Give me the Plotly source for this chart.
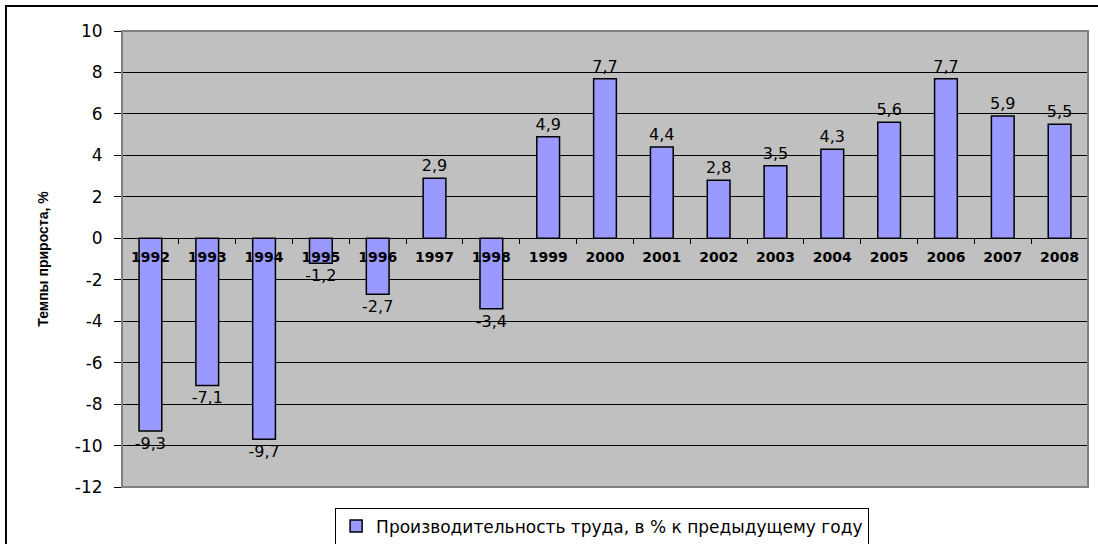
import plotly.graph_objects as go

years = ["1992", "1993", "1994", "1995", "1996", "1997", "1998", "1999", "2000",
         "2001", "2002", "2003", "2004", "2005", "2006", "2007", "2008"]
growth = [-9.3, -7.1, -9.7, -1.2, -2.7, 2.9, -3.4, 4.9, 7.7,
          4.4, 2.8, 3.5, 4.3, 5.6, 7.7, 5.9, 5.5]
series_name = "Производительность труда, в % к предыдущему году"
y_title = "Темпы прироста, %"
y_ticks = [-12, -10, -8, -6, -4, -2, 0, 2, 4, 6, 8, 10]

FONT = "DejaVu Sans, Liberation Sans, Arial, sans-serif"
AFONT = "Liberation Sans, Arial, sans-serif"

fig = go.Figure()
fig.add_trace(go.Bar(
    x=years, y=growth, name=series_name,
    marker=dict(color="#9999FF", line=dict(color="black", width=1.5)),
    width=0.4,
    texttemplate="%{y:.1f}", textposition="outside",
    textfont=dict(family=FONT, size=16, color="black"),
    constraintext="none",
    cliponaxis=False,
    showlegend=True,
))

ymin, ymax = -12, 10
fig.update_layout(
    width=1098, height=544,
    margin=dict(l=122, r=10, t=31, b=57, autoexpand=False),
    paper_bgcolor="white",
    plot_bgcolor="#C0C0C0",
    separators=", ",
    font=dict(family=FONT, color="black"),
    bargap=0.6,
    uniformtext=dict(mode=False),
    xaxis=dict(
        type="category",
        anchor="free",
        position=(0 - ymin) / (ymax - ymin),
        automargin=False,
        showline=True, linecolor="black", linewidth=1,
        ticks="outside", tickson="boundaries", ticklen=5, tickcolor="black",
        ticklabelstandoff=6,
        tickfont=dict(family=FONT, size=14, color="black", weight="bold"),
        showgrid=False, zeroline=False,
        range=[-0.5, len(years) - 0.5],
    ),
    yaxis=dict(
        range=[ymin, ymax],
        automargin=False,
        tickvals=y_ticks,
        ticktext=[str(v) for v in y_ticks],
        ticks="outside", ticklen=7, tickcolor="black",
        ticklabelstandoff=8,
        tickfont=dict(family=FONT, size=17, color="black"),
        showgrid=True, gridcolor="black", gridwidth=1,
        zeroline=False, showline=False,
        title=dict(text=y_title, font=dict(family=AFONT, size=14, color="black", weight="bold"), standoff=22),
    ),
    legend=dict(
        orientation="h", x=0.497, xanchor="center", y=-0.045, yanchor="top",
        bordercolor="black", borderwidth=1, bgcolor="white",
        font=dict(family=FONT, size=17, color="black"),
    ),
    shapes=[
        dict(type="rect", xref="paper", yref="paper", x0=0, x1=1, y0=0, y1=1,
             line=dict(color="#808080", width=2), layer="above"),
        dict(type="rect", xref="paper", yref="paper", x0=-0.1201, x1=1.03, y0=-0.2, y1=1.0548,
             line=dict(color="black", width=2), layer="above"),
    ],
)

fig.write_html("out.html", config={"displayModeBar": False},
               post_script="document.body.style.margin='0';")
